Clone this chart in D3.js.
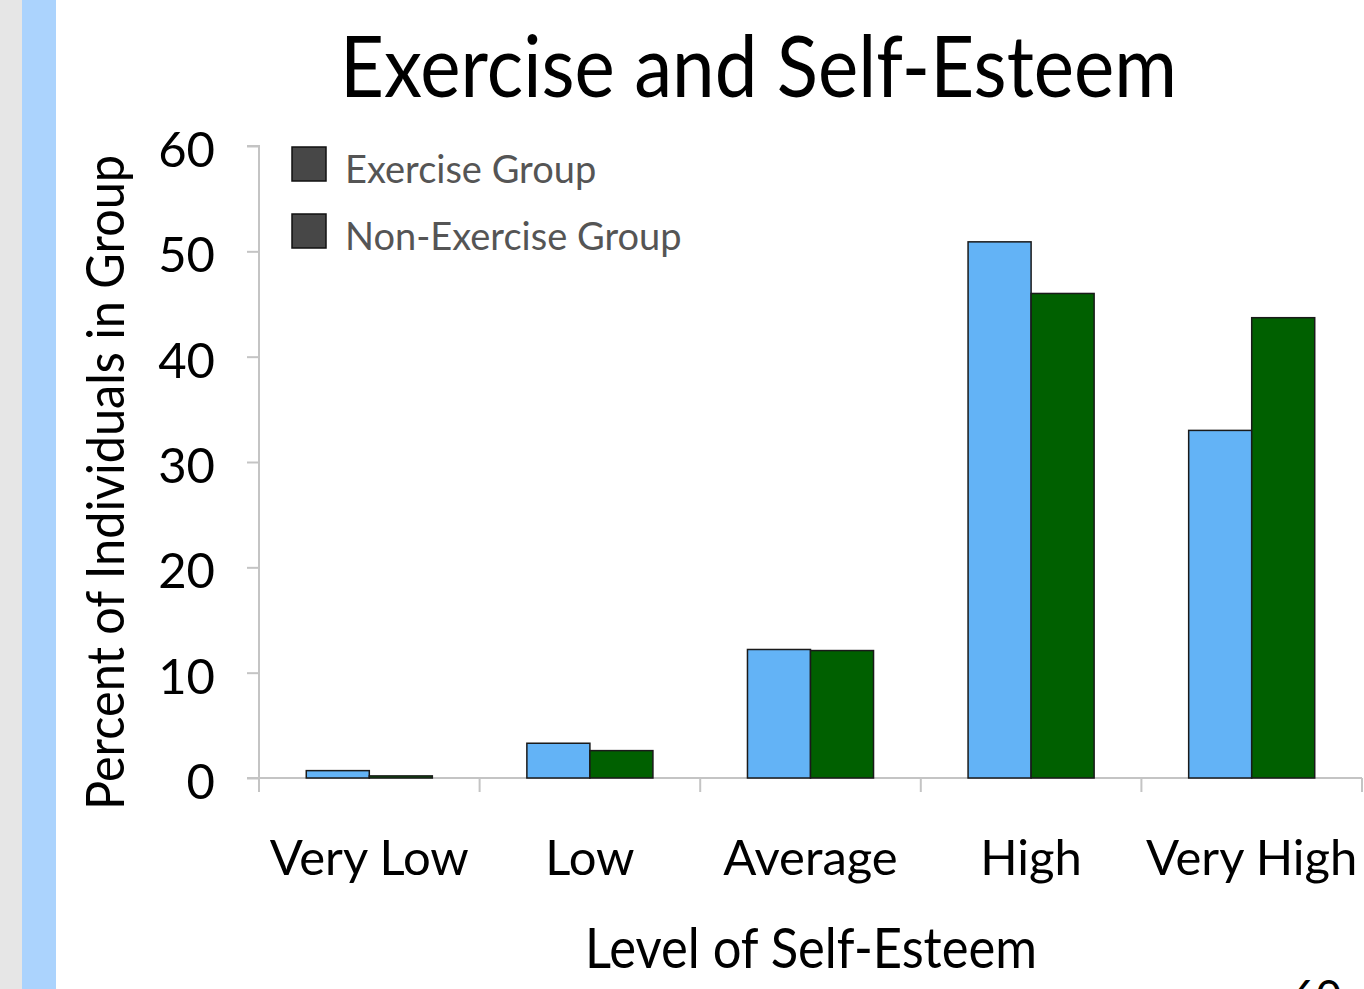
<!DOCTYPE html>
<html><head><meta charset="utf-8">
<script src="https://cdn.jsdelivr.net/npm/d3@7"></script>
<style>html,body{margin:0;padding:0;background:#fff;overflow:hidden}</style>
</head><body>
<svg id="c" width="1364" height="989"></svg>
<script>
const categories = ["Very Low", "Low", "Average", "High", "Very High"];
const seriesNames = ["Exercise Group", "Non-Exercise Group"];
const exerciseValues = [0.7, 3.3, 12.2, 50.9, 33.0];
const nonExerciseValues = [0.2, 2.6, 12.1, 46.0, 43.7];
const yTicks = [0, 10, 20, 30, 40, 50, 60];
const colors = ["#63b3f6", "#006000"];

(function(){
const FONT = "Lato, 'Open Sans', sans-serif";
const svg = d3.select("#c");
svg.append("rect").attr("x",0).attr("y",0).attr("width",22).attr("height",989).attr("fill","#e6e6e6");
svg.append("rect").attr("x",22).attr("y",0).attr("width",34).attr("height",989).attr("fill","#abd3fd");

const pl = 259, pr = 1362, pt = 146, pb = 778;
const x = d3.scaleBand().domain(categories).range([pl, pr]).paddingInner(0).paddingOuter(0);
const xs = d3.scaleBand().domain(seriesNames).range([0, x.bandwidth()]).paddingInner(0).paddingOuter(0.75);
const y = d3.scaleLinear().domain([0, 60]).range([pb, pt]);

const gy = svg.append("g").attr("transform", `translate(${pl},0)`)
  .call(d3.axisLeft(y).tickValues(yTicks).tickSize(12).tickPadding(32));
gy.select(".domain").attr("stroke","#c4c4c4").attr("stroke-width",2).attr("d",`M-12,${pt}H0V${pb}`);
gy.selectAll(".tick line").attr("stroke","#c4c4c4").attr("stroke-width",2);
gy.selectAll(".tick text").attr("font-family",FONT).attr("font-size",49).attr("fill","#000").attr("dy","0.42em");

const gx = svg.append("g").attr("transform", `translate(0,${pb})`)
  .call(d3.axisBottom(x).tickSize(0).tickPadding(0));
gx.select(".domain").attr("stroke","#c4c4c4").attr("stroke-width",2).attr("d",`M${pl-12},0H${pr}`);
gx.selectAll(".tick text").attr("font-family",FONT).attr("font-size",49).attr("fill","#000")
  .attr("y",97).attr("dy",0);
const bounds = categories.map(c => x(c)).concat([pr]);
svg.append("g").selectAll("line").data(bounds).join("line")
  .attr("x1", d=>d).attr("x2", d=>d).attr("y1", pb).attr("y2", pb+14)
  .attr("stroke","#c4c4c4").attr("stroke-width",2);

const data = categories.map((c,i)=>({cat:c, vals:[exerciseValues[i], nonExerciseValues[i]]}));
const groups = svg.append("g").selectAll("g").data(data).join("g")
  .attr("transform", d=>`translate(${x(d.cat)},0)`);
groups.selectAll("rect").data(d=>d.vals.map((v,j)=>({v, s:seriesNames[j], j}))).join("rect")
  .attr("x", d=>xs(d.s)).attr("width", xs.bandwidth())
  .attr("y", d=>y(d.v)).attr("height", d=>y(0)-y(d.v))
  .attr("fill", d=>colors[d.j]).attr("stroke","#1a1a1a").attr("stroke-width",1.5);

const lg = svg.append("g").selectAll("g").data(seriesNames).join("g")
  .attr("transform",(d,i)=>`translate(292,${147+i*67})`);
lg.append("rect").attr("width",34).attr("height",34).attr("fill","#474747").attr("stroke","#111").attr("stroke-width",1.5);
lg.append("text").attr("x",53).attr("y",36).text(d=>d)
  .attr("font-family",FONT).attr("font-size",38).attr("fill","#555");

svg.append("text").attr("x",340).attr("y",97).attr("textLength",837).attr("lengthAdjust","spacingAndGlyphs")
  .attr("font-family",FONT).attr("font-size",86).attr("fill","#000").text("Exercise and Self-Esteem");
svg.append("text").attr("x",585).attr("y",968).attr("textLength",452).attr("lengthAdjust","spacingAndGlyphs")
  .attr("font-family",FONT).attr("font-size",56).attr("fill","#000").text("Level of Self-Esteem");
svg.append("text").attr("transform","translate(124,810) rotate(-90)").attr("textLength",655).attr("lengthAdjust","spacingAndGlyphs")
  .attr("font-family",FONT).attr("font-size",52).attr("fill","#000").text("Percent of Individuals in Group");
svg.append("text").attr("x",1316).attr("y",1012).attr("text-anchor","middle")
  .attr("font-family",FONT).attr("font-size",44).attr("fill","#000").text("60");
})();
</script>
</body></html>
